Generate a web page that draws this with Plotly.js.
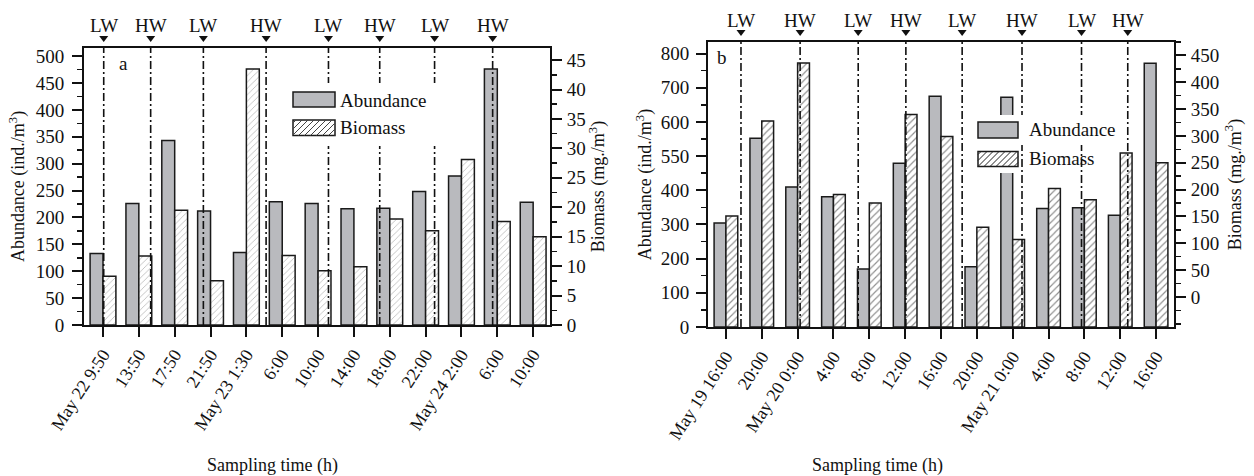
<!DOCTYPE html>
<html>
<head>
<meta charset="utf-8">
<script src="https://cdn.plot.ly/plotly-3.0.1.min.js"></script>
<style>html,body{margin:0;padding:0;background:#fff;}#chart{width:1254px;height:476px;}</style>
</head>
<body>
<div id="chart"></div>
<script>
// ---------- data ----------
const catsA = ["May 22 9:50","13:50","17:50","21:50","May 23 1:30","6:00","10:00","14:00","18:00","22:00","May 24 2:00","6:00","10:00"];
const abundanceA = [133, 226, 343, 212, 135, 229, 226, 216, 217, 248, 277, 476, 228];
const biomassA = [8.3, 11.7, 19.5, 7.5, 43.5, 11.8, 9.2, 9.9, 18.0, 16.0, 28.1, 17.6, 15.0];
const tidePosA = [0.02, 1.33, 2.8, 4.55, 6.29, 7.72, 9.25, 10.87];
const tideLabA = ["LW","HW","LW","HW","LW","HW","LW","HW"];

const catsB = ["May 19 16:00","20:00","May 20 0:00","4:00","8:00","12:00","16:00","20:00","May 21 0:00","4:00","8:00","12:00","16:00"];
const abundanceB = [304, 552, 410, 381, 170, 479, 675, 176, 672, 347, 349, 327, 772];
const biomassB = [151, 328, 436, 191, 175, 340, 299, 130, 107, 202, 181, 268, 250];
const tidePosB = [0.42, 2.07, 3.69, 5.02, 6.59, 8.26, 9.92, 11.21];
const tideLabB = ["LW","HW","LW","HW","LW","HW","LW","HW"];

const leftTicksB = [0,100,200,300,400,500,600,700,800];
const leftTickTextB = ["0","100","200","300","400","550","600","700","800"];
const rightTicksB = [0,50,100,150,200,250,300,350,400,450];

// ---------- geometry helpers ----------
const W = 1254, H = 476;
const px = x => x / W;
const py = y => 1 - y / H;
const A = {l: 84, r: 550, t: 48, b: 325};
const B = {l: 708, r: 1174, t: 42, b: 327};
const B2MIN = -56;

const FONT = "Liberation Serif, Times New Roman, serif";
const GREY = "#b9babe";
const idx = n => Array.from({length: n}, (_, i) => i);

function barTrace(x, y, xa, ya, hatch, width, offset, extra) {
  const t = {
    type: 'bar', x: x, y: y, xaxis: xa, yaxis: ya,
    width: width, offset: offset, showlegend: false, hoverinfo: 'y',
    marker: {
      color: hatch ? '#ffffff' : GREY,
      line: {color: '#1a1a1a', width: 1.5}
    }
  };
  if (hatch) {
    t.marker.pattern = Object.assign({shape: '/', bgcolor: '#ffffff', fillmode: 'overlay'}, hatch);
  }
  return Object.assign(t, extra || {});
}

const xA = idx(catsA.length), xB = idx(catsB.length);
const traces = [
  barTrace(xA, abundanceA, 'x', 'y', null, 0.36, -0.36),
  barTrace(xA, biomassA, 'x', 'y2', {size: 4.5, solidity: 0.15, fgcolor: '#555'}, 0.36, 0),
  barTrace(xB, abundanceB, 'x2', 'y3', null, 0.33, -0.33),
  barTrace(xB, biomassB.map(v => v - B2MIN), 'x2', 'y4', {size: 5, solidity: 0.24, fgcolor: '#222'}, 0.33, 0, {base: B2MIN})
];

// ---------- shapes & annotations ----------
const shapes = [], annotations = [];
function tides(pos, labs, xref, box) {
  pos.forEach((p, i) => {
    shapes.push({type: 'line', xref: xref, yref: 'paper', x0: p, x1: p, y0: py(box.b), y1: py(box.t),
      line: {color: '#111', width: 1.6, dash: '8px,3px,2px,3px'}, layer: 'above'});
    shapes.push({type: 'path', xref: xref, yref: 'paper', xsizemode: 'pixel', ysizemode: 'pixel',
      xanchor: p, yanchor: py(box.t), path: 'M -4.5 12 L 4.5 12 L 0 6 Z',
      fillcolor: '#111', line: {width: 0}, layer: 'above'});
    annotations.push({xref: xref, yref: 'paper', x: p, y: py(box.t), yanchor: 'middle', xanchor: 'center',
      yshift: 22, showarrow: false, text: labs[i], font: {family: FONT, size: 19, color: '#111'}});
  });
}
tides(tidePosA, tideLabA, 'x', A);
tides(tidePosB, tideLabB, 'x2', B);

function rectPx(x0, y0, x1, y1, fill, lineW) {
  shapes.push({type: 'rect', xref: 'paper', yref: 'paper', x0: px(x0), x1: px(x1), y0: py(y1), y1: py(y0),
    fillcolor: fill, line: {color: '#1a1a1a', width: lineW}, layer: 'above'});
}
function hatchPx(x0, y0, x1, y1, s, col) {
  let d = '';
  for (let c = x0 + y0 + s / 2; c < x1 + y1; c += s) {
    const xa = Math.max(x0, c - y1), xb = Math.min(x1, c - y0);
    if (xb <= xa) continue;
    d += `M ${px(xa)} ${py(c - xa)} L ${px(xb)} ${py(c - xb)} `;
  }
  shapes.push({type: 'path', xref: 'paper', yref: 'paper', path: d, line: {color: col, width: 1}, layer: 'above'});
}
function legendText(x, y, txt) {
  annotations.push({xref: 'paper', yref: 'paper', x: px(x), y: py(y), xanchor: 'left', yanchor: 'middle',
    showarrow: false, text: txt, font: {family: FONT, size: 19, color: '#111'}});
}
// legend a
shapes.push({type: 'rect', xref: 'paper', yref: 'paper', x0: px(286), x1: px(442), y0: py(146), y1: py(83),
  fillcolor: '#fff', line: {width: 0}, layer: 'above'});
rectPx(293, 92, 335, 107, GREY, 1.5);
rectPx(293, 120, 335, 135.5, '#fff', 1.5);
hatchPx(293, 120, 335, 135.5, 6, '#444');
legendText(338, 100, 'Abundance');
legendText(338, 128, 'Biomass');
// legend b
shapes.push({type: 'rect', xref: 'paper', yref: 'paper', x0: px(970), x1: px(1125), y0: py(145), y1: py(115),
  fillcolor: '#fff', line: {width: 0}, layer: 'above'});
shapes.push({type: 'rect', xref: 'paper', yref: 'paper', x0: px(970), x1: px(1020), y0: py(173), y1: py(145),
  fillcolor: '#fff', line: {width: 0}, layer: 'above'});
rectPx(978, 122, 1018, 138, GREY, 1.5);
rectPx(978, 151.5, 1018, 166.5, '#fff', 1.5);
hatchPx(978, 151.5, 1018, 166.5, 6, '#222');
legendText(1027, 130, 'Abundance');
legendText(1027, 159, 'Biomass');

// panel letters
annotations.push({xref: 'paper', yref: 'paper', x: px(123), y: py(64), xanchor: 'center', yanchor: 'middle',
  showarrow: false, text: 'a', font: {family: FONT, size: 19, color: '#111'}});
annotations.push({xref: 'paper', yref: 'paper', x: px(722), y: py(57), xanchor: 'center', yanchor: 'middle',
  showarrow: false, text: 'b', font: {family: FONT, size: 19, color: '#111'}});
// x-axis titles
annotations.push({xref: 'paper', yref: 'paper', x: px(272), y: py(465), xanchor: 'center', yanchor: 'middle',
  showarrow: false, text: 'Sampling time (h)', font: {family: FONT, size: 18, color: '#111'}});
annotations.push({xref: 'paper', yref: 'paper', x: px(877), y: py(465), xanchor: 'center', yanchor: 'middle',
  showarrow: false, text: 'Sampling time (h)', font: {family: FONT, size: 18, color: '#111'}});

// ---------- axes ----------
const tickFont = {family: FONT, size: 19, color: '#111'};
const common = {showgrid: false, zeroline: false, showline: true, linecolor: '#111', linewidth: 2,
  ticks: 'outside', ticklen: 10, tickwidth: 2, tickcolor: '#111', tickfont: tickFont, fixedrange: true};
function xAxis(dom, anchor, cats) {
  return Object.assign({}, common, {domain: dom, anchor: anchor, range: [-0.5, cats.length - 0.5],
    tickmode: 'array', tickvals: idx(cats.length), ticktext: cats, tickangle: -57, mirror: true,
    tickfont: {family: FONT, size: 18, color: '#111'}});
}
function title(txt, standoff) {
  return {text: txt, font: {family: FONT, size: 18, color: '#111'}, standoff: standoff};
}
const minorT = (d, extra) => Object.assign({dtick: d, ticklen: 5, tickwidth: 1.5, tickcolor: '#111', ticks: 'outside', showgrid: false}, extra || {});

const layout = {
  width: W, height: H, margin: {l: 0, r: 0, t: 0, b: 0, pad: 0},
  paper_bgcolor: '#fff', plot_bgcolor: '#fff', showlegend: false,
  font: {family: FONT, color: '#111'},
  xaxis: Object.assign(xAxis([px(A.l), px(A.r)], 'y', catsA), {range: [-0.53, 12.47]}),
  yaxis: Object.assign({}, common, {domain: [py(A.b), py(A.t)], anchor: 'x', range: [0, 515],
    tickmode: 'linear', tick0: 0, dtick: 50, minor: minorT(25), ticklabelstandoff: 4,
    title: title('Abundance (ind./m<sup>3</sup>)', 6)}),
  yaxis2: Object.assign({}, common, {overlaying: 'y', side: 'right', anchor: 'x', range: [0, 47.05],
    tickmode: 'linear', tick0: 0, dtick: 5, minor: minorT(2.5), ticklabelstandoff: 1,
    title: title('Biomass (mg./m<sup>3</sup>)', 4)}),
  xaxis2: xAxis([px(B.l), px(B.r)], 'y3', catsB),
  yaxis3: Object.assign({}, common, {domain: [py(B.b), py(B.t)], anchor: 'x2', range: [0, 834],
    tickmode: 'array', tickvals: leftTicksB, ticktext: leftTickTextB,
    minor: minorT(50, {tick0: 0}), ticklabelstandoff: 3,
    title: title('Abundance (ind./m<sup>3</sup>)', 4)}),
  yaxis4: Object.assign({}, common, {overlaying: 'y3', side: 'right', anchor: 'x2', range: [B2MIN, 475],
    tickmode: 'array', tickvals: rightTicksB, ticktext: rightTicksB.map(String),
    minor: minorT(25, {tick0: 0}), ticklabelstandoff: 1,
    title: title('Biomass (mg./m<sup>3</sup>)', 10)}),
  shapes: shapes, annotations: annotations
};

Plotly.newPlot('chart', traces, layout, {displayModeBar: false, staticPlot: true});
</script>
</body>
</html>
